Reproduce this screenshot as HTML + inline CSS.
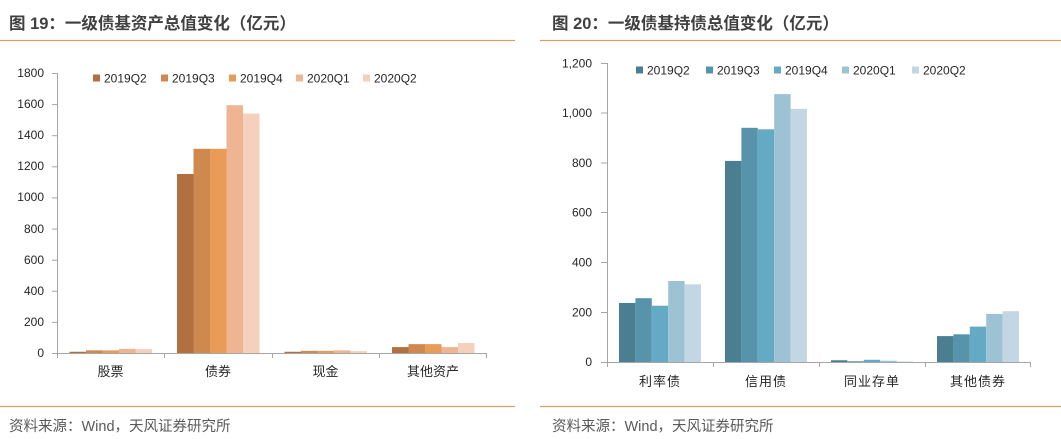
<!DOCTYPE html>
<html><head><meta charset="utf-8">
<style>
html,body{margin:0;padding:0;background:#fff;}
svg{display:block;}
text{font-family:"Liberation Sans","Noto Sans CJK SC",sans-serif;}
</style></head>
<body>
<svg width="1061" height="439" viewBox="0 0 1061 439" xmlns="http://www.w3.org/2000/svg">
<!-- Titles -->
<text x="9" y="29" font-size="16.5" font-weight="bold" fill="#404040">图 19：一级债基资产总值变化（亿元）</text>
<text x="552" y="29" font-size="16.5" font-weight="bold" fill="#404040">图 20：一级债基持债总值变化（亿元）</text>
<line x1="0" y1="40.5" x2="515" y2="40.5" stroke="#d4a06a" stroke-width="1.2"/>
<line x1="540" y1="40.5" x2="1061" y2="40.5" stroke="#d4a06a" stroke-width="1.2"/>
<line x1="0" y1="406.5" x2="515" y2="406.5" stroke="#d4a06a" stroke-width="1.2"/>
<line x1="540" y1="406.5" x2="1061" y2="406.5" stroke="#d4a06a" stroke-width="1.2"/>
<text x="9" y="431" font-size="14.5" fill="#595959">资料来源：Wind，天风证券研究所</text>
<text x="552" y="431" font-size="14.5" fill="#595959">资料来源：Wind，天风证券研究所</text>

<!-- LEFT CHART -->
<g font-size="12" fill="#262626" text-anchor="end">
<text x="44" y="357">0</text>
<text x="44" y="326">200</text>
<text x="44" y="295">400</text>
<text x="44" y="264">600</text>
<text x="44" y="233">800</text>
<text x="44" y="201">1000</text>
<text x="44" y="170">1200</text>
<text x="44" y="139">1400</text>
<text x="44" y="108">1600</text>
<text x="44" y="77">1800</text>
</g>
<g stroke="#a6a6a6" stroke-width="1">
<line x1="57.5" y1="73" x2="57.5" y2="353"/>
<line x1="52" y1="353.5" x2="57" y2="353.5"/>
<line x1="52" y1="322.4" x2="57" y2="322.4"/>
<line x1="52" y1="291.3" x2="57" y2="291.3"/>
<line x1="52" y1="260.2" x2="57" y2="260.2"/>
<line x1="52" y1="229.1" x2="57" y2="229.1"/>
<line x1="52" y1="197.9" x2="57" y2="197.9"/>
<line x1="52" y1="166.8" x2="57" y2="166.8"/>
<line x1="52" y1="135.7" x2="57" y2="135.7"/>
<line x1="52" y1="104.6" x2="57" y2="104.6"/>
<line x1="52" y1="73.5" x2="57" y2="73.5"/>
</g>
<!-- bars left -->
<g>
<rect x="69.5" y="351.76" width="16.5" height="1.24" fill="#b07040"/>
<rect x="86" y="350.36" width="16.5" height="2.64" fill="#cf884d"/>
<rect x="102.5" y="350.36" width="16.5" height="2.64" fill="#e99b58"/>
<rect x="119" y="348.8" width="16.5" height="4.2" fill="#eeb593"/>
<rect x="135.5" y="349.11" width="16.5" height="3.89" fill="#f5d0bd"/>

<rect x="177" y="174" width="16.5" height="179" fill="#b07040"/>
<rect x="193.5" y="148.8" width="16.5" height="204.2" fill="#cf884d"/>
<rect x="210" y="148.8" width="16.5" height="204.2" fill="#e99b58"/>
<rect x="226.5" y="105.2" width="16.5" height="247.8" fill="#eeb593"/>
<rect x="243" y="113.6" width="16.5" height="239.4" fill="#f5d0bd"/>

<rect x="284.5" y="351.76" width="16.5" height="1.24" fill="#b07040"/>
<rect x="301" y="350.82" width="16.5" height="2.18" fill="#cf884d"/>
<rect x="317.5" y="350.82" width="16.5" height="2.18" fill="#e99b58"/>
<rect x="334" y="350.36" width="16.5" height="2.64" fill="#eeb593"/>
<rect x="350.5" y="351.13" width="16.5" height="1.87" fill="#f5d0bd"/>

<rect x="392" y="347.1" width="16.5" height="5.9" fill="#b07040"/>
<rect x="408.5" y="344.13" width="16.5" height="8.87" fill="#cf884d"/>
<rect x="425" y="344.13" width="16.5" height="8.87" fill="#e99b58"/>
<rect x="441.5" y="347.1" width="16.5" height="5.9" fill="#eeb593"/>
<rect x="458" y="343.04" width="16.5" height="9.96" fill="#f5d0bd"/>
</g>
<g stroke="#a6a6a6" stroke-width="1">
<line x1="57" y1="353.5" x2="487" y2="353.5"/>
<line x1="57.5" y1="353" x2="57.5" y2="358"/>
<line x1="164.5" y1="353" x2="164.5" y2="358"/>
<line x1="272.5" y1="353" x2="272.5" y2="358"/>
<line x1="379.5" y1="353" x2="379.5" y2="358"/>
<line x1="486.5" y1="353" x2="486.5" y2="358"/>
</g>
<g font-size="13" fill="#262626" text-anchor="middle">
<text x="110.5" y="376">股票</text>
<text x="218" y="376">债券</text>
<text x="325.5" y="376">现金</text>
<text x="433" y="376">其他资产</text>
</g>
<!-- legend left -->
<g font-size="12" fill="#262626">
<rect x="93" y="74.5" width="7" height="7" fill="#b07040"/><text x="104" y="82.5">2019Q2</text>
<rect x="161" y="74.5" width="7" height="7" fill="#cf884d"/><text x="172" y="82.5">2019Q3</text>
<rect x="229" y="74.5" width="7" height="7" fill="#e99b58"/><text x="240" y="82.5">2019Q4</text>
<rect x="296" y="74.5" width="7" height="7" fill="#eeb593"/><text x="307" y="82.5">2020Q1</text>
<rect x="363" y="74.5" width="7" height="7" fill="#f5d0bd"/><text x="374" y="82.5">2020Q2</text>
</g>

<!-- RIGHT CHART -->
<g font-size="12" fill="#262626" text-anchor="end">
<text x="592" y="366">0</text>
<text x="592" y="316.5">200</text>
<text x="592" y="266.5">400</text>
<text x="592" y="216.5">600</text>
<text x="592" y="167">800</text>
<text x="592" y="117">1,000</text>
<text x="592" y="67.5">1,200</text>
</g>
<g stroke="#a6a6a6" stroke-width="1">
<line x1="607.5" y1="63" x2="607.5" y2="362"/>
<line x1="601" y1="362.5" x2="607" y2="362.5"/>
<line x1="601" y1="312.5" x2="607" y2="312.5"/>
<line x1="601" y1="262.5" x2="607" y2="262.5"/>
<line x1="601" y1="212.5" x2="607" y2="212.5"/>
<line x1="601" y1="163" x2="607" y2="163"/>
<line x1="601" y1="113" x2="607" y2="113"/>
<line x1="601" y1="63.5" x2="607" y2="63.5"/>
</g>
<g>
<rect x="619" y="302.95" width="16.4" height="59.05" fill="#4a7f92"/>
<rect x="635.4" y="298.2" width="16.4" height="63.8" fill="#5794ab"/>
<rect x="651.8" y="305.7" width="16.4" height="56.3" fill="#64aac4"/>
<rect x="668.2" y="281" width="16.4" height="81" fill="#9cc2d4"/>
<rect x="684.6" y="284.3" width="16.4" height="77.7" fill="#c2d7e3"/>

<rect x="725" y="160.9" width="16.4" height="201.1" fill="#4a7f92"/>
<rect x="741.4" y="127.8" width="16.4" height="234.2" fill="#5794ab"/>
<rect x="757.8" y="129.3" width="16.4" height="232.7" fill="#64aac4"/>
<rect x="774.2" y="94.1" width="16.4" height="267.9" fill="#9cc2d4"/>
<rect x="790.6" y="108.8" width="16.4" height="253.2" fill="#c2d7e3"/>

<rect x="831" y="360.26" width="16.4" height="1.74" fill="#4a7f92"/>
<rect x="847.4" y="361.25" width="16.4" height="0.75" fill="#5794ab"/>
<rect x="863.8" y="359.76" width="16.4" height="2.24" fill="#64aac4"/>
<rect x="880.2" y="360.75" width="16.4" height="1.25" fill="#9cc2d4"/>
<rect x="896.6" y="361.5" width="16.4" height="0.5" fill="#c2d7e3"/>

<rect x="937" y="336.1" width="16.4" height="25.9" fill="#4a7f92"/>
<rect x="953.4" y="334.3" width="16.4" height="27.7" fill="#5794ab"/>
<rect x="969.8" y="326.6" width="16.4" height="35.4" fill="#64aac4"/>
<rect x="986.2" y="313.9" width="16.4" height="48.1" fill="#9cc2d4"/>
<rect x="1002.6" y="311.2" width="16.4" height="50.8" fill="#c2d7e3"/>
</g>
<g stroke="#a6a6a6" stroke-width="1">
<line x1="607" y1="362.5" x2="1031" y2="362.5"/>
<line x1="607.5" y1="362" x2="607.5" y2="367"/>
<line x1="713.5" y1="362" x2="713.5" y2="367"/>
<line x1="819.5" y1="362" x2="819.5" y2="367"/>
<line x1="925.5" y1="362" x2="925.5" y2="367"/>
<line x1="1030.5" y1="362" x2="1030.5" y2="367"/>
</g>
<g font-size="13" fill="#262626" text-anchor="middle" letter-spacing="1">
<text x="660" y="386">利率债</text>
<text x="766" y="386">信用债</text>
<text x="872" y="386">同业存单</text>
<text x="978" y="386">其他债券</text>
</g>
<g font-size="12" fill="#262626">
<rect x="636" y="66.5" width="7" height="7" fill="#4a7f92"/><text x="647" y="74.5">2019Q2</text>
<rect x="706" y="66.5" width="7" height="7" fill="#5794ab"/><text x="717" y="74.5">2019Q3</text>
<rect x="774" y="66.5" width="7" height="7" fill="#64aac4"/><text x="785" y="74.5">2019Q4</text>
<rect x="842" y="66.5" width="7" height="7" fill="#9cc2d4"/><text x="853" y="74.5">2020Q1</text>
<rect x="912" y="66.5" width="7" height="7" fill="#c2d7e3"/><text x="923" y="74.5">2020Q2</text>
</g>
</svg>
</body></html>
